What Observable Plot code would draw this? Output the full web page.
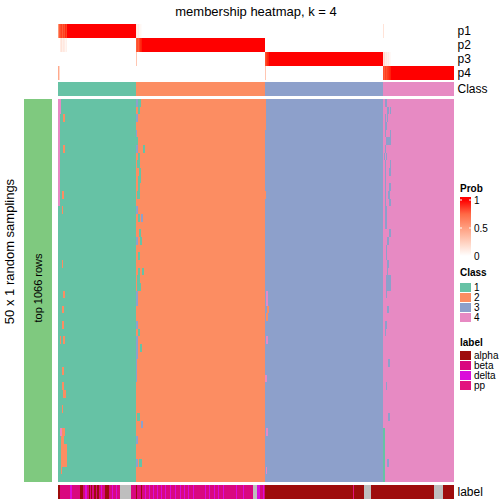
<!DOCTYPE html>
<html><head><meta charset="utf-8">
<script src="https://cdn.jsdelivr.net/npm/d3@7"></script>
<script src="https://cdn.jsdelivr.net/npm/@observablehq/plot@0.6"></script>
<style>
body{margin:0;background:#fff;}
#chart{position:relative;width:504px;height:504px;overflow:hidden;background:#fff;}
#chart > svg{position:absolute;}
</style></head><body><div id="chart"></div>
<script>
// ---------------- data ----------------
const nSamples = 396;          // columns (samples)
const nRows = 50;              // 50 x 1 random samplings
const titleText = "membership heatmap, k = 4";
const rowTitle = "50 x 1 random samplings";
const rowSplitText = "top 1066 rows";
const classes = [1, 2, 3, 4];
const classColors = ["#66C2A5", "#FC8D62", "#8DA0CB", "#E78AC3"];
const labelNames = ["alpha", "beta", "delta", "pp"];
const labelColors = ["#9E0C0C", "#D9087F", "#DA0CDA", "#E2137E"];
const naColor = "#BEBEBE";
const pNames = ["p1", "p2", "p3", "p4"];

// consensus class per sample: [class, count]
const classRuns = [[1, 78], [2, 129], [3, 118], [4, 71]];

// membership probabilities per sample: [value, count]
const p1Runs = [[0.55,1],[0.8,1],[0.85,1],[0.9,1],[0.8,1],[0.9,1],[0.85,1],[0.95,1],[0.9,1],[1,69],[0.12,1],[0.08,1],[0.1,1],[0.05,1],[0.04,1],[0.02,1],[0,241],[0.15,1],[0,70]];
const p2Runs = [[0,2],[0.1,1],[0.15,1],[0.08,1],[0.12,1],[0.1,1],[0.05,1],[0.08,1],[0,69],[0.8,1],[0.85,1],[0.8,1],[0.9,1],[0.95,1],[0.97,1],[1,123],[0,189]];
const p3Runs = [[0,78],[0.3,1],[0,128],[0.85,1],[0.9,1],[0.95,1],[0.97,1],[1,114],[0.15,1],[0.2,1],[0.1,1],[0.12,1],[0.08,1],[0.1,1],[0.05,1],[0.03,1],[0,63]];
const p4Runs = [[0.45,1],[0.2,1],[0,205],[0.3,1],[0,117],[0.85,1],[0.8,1],[0.9,1],[0.85,1],[0.9,1],[0.92,1],[0.95,1],[0.97,1],[1,63]];

// sample labels: [label, count]
const labelRuns = [
 ["alpha",2],["beta",10],["delta",2],["beta",8],["alpha",3],["beta",2],["delta",2],["beta",2],
 ["alpha",1],["beta",1],["alpha",1],["beta",2],["alpha",2],["beta",1],["alpha",2],["beta",2],
 ["delta",1],["beta",3],["alpha",4],["beta",3],["delta",1],["beta",3],["delta",1],["beta",3],
 ["NA",11],["beta",5],["alpha",1],["beta",4],["alpha",1],["beta",3],["delta",1],["beta",3],
 ["delta",1],["beta",3],["delta",1],["beta",3],["delta",1],["beta",3],["delta",1],["beta",3],
 ["delta",1],["beta",4],["delta",1],["beta",4],["delta",1],["beta",4],["delta",1],["beta",3],
 ["delta",1],["beta",3],["delta",1],["beta",4],["delta",1],["beta",11],["delta",1],["beta",3],
 ["delta",1],["beta",4],["delta",1],["beta",3],["delta",1],["beta",4],["delta",1],["beta",12],
 ["delta",1],["beta",6],["delta",1],["beta",9],["NA",4],["delta",3],["beta",3],["delta",1],
 ["beta",1],["alpha",88],["pp",1],["alpha",10],["NA",7],["alpha",63],["NA",9],["alpha",11]
];

// per-sampling deviations from consensus: [row0, row1, col0, col1, class]
const swaps = [
 [0,1,0,2,4],[2,13,0,1,4],[2,2,5,6,2],[6,6,5,6,2],[12,12,4,5,2],[14,14,4,4,2],[21,21,4,4,2],
 [25,25,5,6,2],[27,27,4,5,2],[29,29,4,5,2],[31,31,5,6,2],[31,31,2,2,2],[35,35,4,5,2],[37,37,4,5,2],
 [38,38,5,7,2],[40,40,4,4,2],[43,43,2,3,4],[43,43,4,6,2],[44,46,3,5,2],[45,46,6,8,2],[47,47,3,8,2],[48,48,3,3,2],
 [0,0,78,79,3],[0,0,80,82,1],[1,1,80,81,1],[2,2,78,79,3],[4,4,78,78,3],[5,5,78,79,1],[6,6,78,79,3],
 [6,6,85,86,1],[7,7,80,81,1],[8,8,79,81,1],[9,9,81,82,1],[10,10,80,82,1],[11,11,80,81,1],[12,12,79,81,1],
 [14,14,78,79,3],[15,15,80,81,1],[15,15,83,84,3],[17,17,81,82,1],[18,18,78,79,3],[18,18,82,83,1],
 [20,20,80,81,1],[22,22,80,81,1],[22,22,84,85,1],[23,23,79,81,1],[24,24,79,82,1],[25,26,78,79,3],
 [29,29,78,79,3],[30,30,80,81,1],[31,31,78,79,3],[32,32,78,79,3],[32,32,82,83,1],[33,33,78,79,3],
 [34,36,78,78,3],[41,41,79,81,1],[42,42,83,84,3],[44,44,78,79,3],[47,47,78,79,3],[47,47,81,83,1],
 [0,3,207,207,2],[12,12,207,207,2],[25,26,208,209,4],[27,27,209,210,2],[28,28,208,209,2],
 [31,31,208,209,4],[36,36,207,208,4],[43,43,208,209,4],[48,48,208,208,4],
 [0,0,327,328,3],[1,1,329,330,3],[1,1,332,332,3],[2,2,327,327,3],[2,2,329,329,3],[3,3,327,328,3],
 [4,4,327,327,3],[4,4,332,332,3],[5,5,328,330,3],[5,5,331,332,3],[6,6,327,327,3],[7,7,326,326,3],
 [7,7,328,328,3],[8,8,327,327,3],[8,8,332,332,3],[9,9,327,327,3],[9,9,331,332,3],[10,10,327,327,3],
 [11,11,327,327,3],[11,11,331,332,3],[12,12,327,327,3],[12,12,330,331,3],[13,13,327,327,3],
 [13,13,331,332,3],[14,16,327,328,3],[17,17,331,332,3],[18,18,329,330,3],[19,20,328,328,3],
 [21,21,329,330,3],[22,22,329,329,3],[23,24,328,330,3],[23,24,331,332,3],[25,25,328,328,3],
 [27,27,329,330,3],[29,29,327,328,3],[30,30,327,327,3],[34,34,330,331,3],[37,37,328,328,3],
 [41,41,330,331,3],[43,49,325,326,1],[47,47,329,330,3]
];

// ---------------- build tables ----------------
function runsToSegments(runs, extra) {
  const out = []; let i = 0;
  for (const [v, c] of runs) { out.push(Object.assign({x1: i, x2: i + c, v}, extra)); i += c; }
  return out;
}
const pData = [p1Runs, p2Runs, p3Runs, p4Runs].flatMap((r, k) => runsToSegments(r, {name: pNames[k]}));
const classData = runsToSegments(classRuns, {name: "Class"});
const labelData = runsToSegments(labelRuns, {name: "label"});

const baseClass = [];
for (const [k, c] of classRuns) for (let j = 0; j < c; j++) baseClass.push(k);
const cellData = [];
for (let r = 0; r < nRows; r++) {
  const row = baseClass.slice();
  for (const [r0, r1, c0, c1, k] of swaps) if (r >= r0 && r <= r1) for (let c = c0; c <= c1; c++) row[c] = k;
  let s = 0;
  for (let c = 1; c <= nSamples; c++) {
    if (c === nSamples || row[c] !== row[s]) { cellData.push({row: r, x1: s, x2: c, v: row[s]}); s = c; }
  }
}

// ---------------- drawing ----------------
const FONT = "'Liberation Sans', Arial, Helvetica, sans-serif";
const chart = document.getElementById("chart");
function place(svg, left, top) {
  svg.style.position = "absolute"; svg.style.left = left + "px"; svg.style.top = top + "px";
  svg.style.maxWidth = "none";
  chart.appendChild(svg);
}
const baseStyle = {background: "transparent", fontFamily: FONT, fontSize: "12px", color: "#000", overflow: "visible"};
const W = 396;

// top annotation: membership probabilities
place(Plot.plot({
  width: W + 40, height: 56, marginLeft: 0, marginRight: 40, marginTop: 0, marginBottom: 0,
  style: baseStyle,
  x: {domain: [0, nSamples], axis: null},
  y: {domain: pNames, padding: 0, round: false, axis: "right", tickSize: 0, tickPadding: 3, label: null},
  color: {type: "linear", domain: [0, 1], range: ["#FFFFFF", "#FF0000"], interpolate: "lab"},
  marks: [Plot.barX(pData, {x1: "x1", x2: "x2", y: "name", fill: "v", shapeRendering: "crispEdges"})]
}), 58, 24);

// class annotation
place(Plot.plot({
  width: W + 50, height: 14, marginLeft: 0, marginRight: 50, marginTop: 0, marginBottom: 0,
  style: baseStyle,
  x: {domain: [0, nSamples], axis: null},
  y: {domain: ["Class"], padding: 0, round: false, axis: "right", tickSize: 0, tickPadding: 3, label: null},
  color: {type: "ordinal", domain: classes, range: classColors},
  marks: [Plot.barX(classData, {x1: "x1", x2: "x2", y: "name", fill: "v", shapeRendering: "crispEdges"})]
}), 58, 82);

// main heatmap
place(Plot.plot({
  width: W, height: 383, marginLeft: 0, marginRight: 0, marginTop: 0, marginBottom: 0,
  style: baseStyle,
  x: {domain: [0, nSamples], axis: null},
  y: {domain: d3.range(nRows), padding: 0, round: false, axis: null},
  color: {type: "ordinal", domain: classes, range: classColors},
  marks: [Plot.barX(cellData, {x1: "x1", x2: "x2", y: "row", fill: "v", shapeRendering: "crispEdges"})]
}), 58, 99);

// label annotation
place(Plot.plot({
  width: W + 50, height: 14, marginLeft: 0, marginRight: 50, marginTop: 0, marginBottom: 0,
  style: baseStyle,
  x: {domain: [0, nSamples], axis: null},
  y: {domain: ["label"], padding: 0, round: false, axis: "right", tickSize: 0, tickPadding: 3, label: null},
  color: {type: "ordinal", domain: [...labelNames, "NA"], range: [...labelColors, naColor]},
  marks: [Plot.barX(labelData, {x1: "x1", x2: "x2", y: "name", fill: "v", shapeRendering: "crispEdges"})]
}), 58, 485);

// row split bar
place(Plot.plot({
  width: 28, height: 383, marginLeft: 0, marginRight: 0, marginTop: 0, marginBottom: 0,
  style: Object.assign({}, baseStyle, {fontSize: "11px"}),
  x: {domain: [0, 1], axis: null},
  y: {domain: [rowSplitText], padding: 0, round: false, axis: null},
  marks: [
    Plot.barX([rowSplitText], {x1: 0, x2: 1, y: d => d, fill: "#7FC97F", shapeRendering: "crispEdges"}),
    Plot.text([rowSplitText], {x: 0.5, y: d => d, text: d => d, rotate: -90, dy: -3, fill: "#000", fontSize: 11})
  ]
}), 24, 99);

// overlay: titles and legends
const svg = d3.create("svg").attr("width", 504).attr("height", 504)
  .style("left", "0px").style("top", "0px").style("position", "absolute")
  .attr("font-family", FONT);
svg.append("text").attr("x", 256).attr("y", 16).attr("text-anchor", "middle")
  .attr("font-size", 13).attr("fill", "#000").text(titleText);
svg.append("text").attr("transform", "translate(13.5,251.5) rotate(-90)").attr("text-anchor", "middle")
  .attr("font-size", 13).attr("fill", "#000").text(rowTitle);

// Prob legend
const lg = svg.append("g").attr("font-size", 10).attr("fill", "#000");
lg.append("text").attr("x", 460).attr("y", 192).attr("font-weight", "bold").text("Prob");
const defs = svg.append("defs");
const grad = defs.append("linearGradient").attr("id", "probgrad").attr("x1", 0).attr("x2", 0).attr("y1", 0).attr("y2", 1);
const gy0 = 197, gy1 = 259, yTop = 200, yBot = 256;
const probInterp = d3.interpolateLab("#FFFFFF", "#FF0000");
[1, 0.75, 0.5, 0.25, 0].forEach(v => {
  const y = yBot + (yTop - yBot) * v;
  grad.append("stop").attr("offset", (y - gy0) / (gy1 - gy0)).attr("stop-color", probInterp(v));
});
lg.append("rect").attr("x", 460).attr("y", gy0).attr("width", 11).attr("height", gy1 - gy0).attr("fill", "url(#probgrad)");
[1, 0.5, 0].forEach(v => {
  const y = yBot + (yTop - yBot) * v;
  lg.append("line").attr("x1", 460).attr("x2", 462).attr("y1", y).attr("y2", y).attr("stroke", "#fff").attr("stroke-width", 1);
  lg.append("line").attr("x1", 469).attr("x2", 471).attr("y1", y).attr("y2", y).attr("stroke", "#fff").attr("stroke-width", 1);
  lg.append("text").attr("x", 474).attr("y", y).attr("dy", "0.35em").text(String(v));
});

// Class legend
lg.append("text").attr("x", 460).attr("y", 276).attr("font-weight", "bold").text("Class");
classes.forEach((k, i) => {
  lg.append("rect").attr("x", 460).attr("y", 283 + 10 * i).attr("width", 11).attr("height", 9).attr("fill", classColors[i]);
  lg.append("text").attr("x", 474).attr("y", 287.5 + 10 * i).attr("dy", "0.35em").text(String(k));
});

// label legend
lg.append("text").attr("x", 460).attr("y", 346).attr("font-weight", "bold").text("label");
labelNames.forEach((k, i) => {
  lg.append("rect").attr("x", 460).attr("y", 351 + 10 * i).attr("width", 11).attr("height", 9).attr("fill", labelColors[i]);
  lg.append("text").attr("x", 474).attr("y", 355.5 + 10 * i).attr("dy", "0.35em").text(k);
});
chart.appendChild(svg.node());
</script>
</body></html>
